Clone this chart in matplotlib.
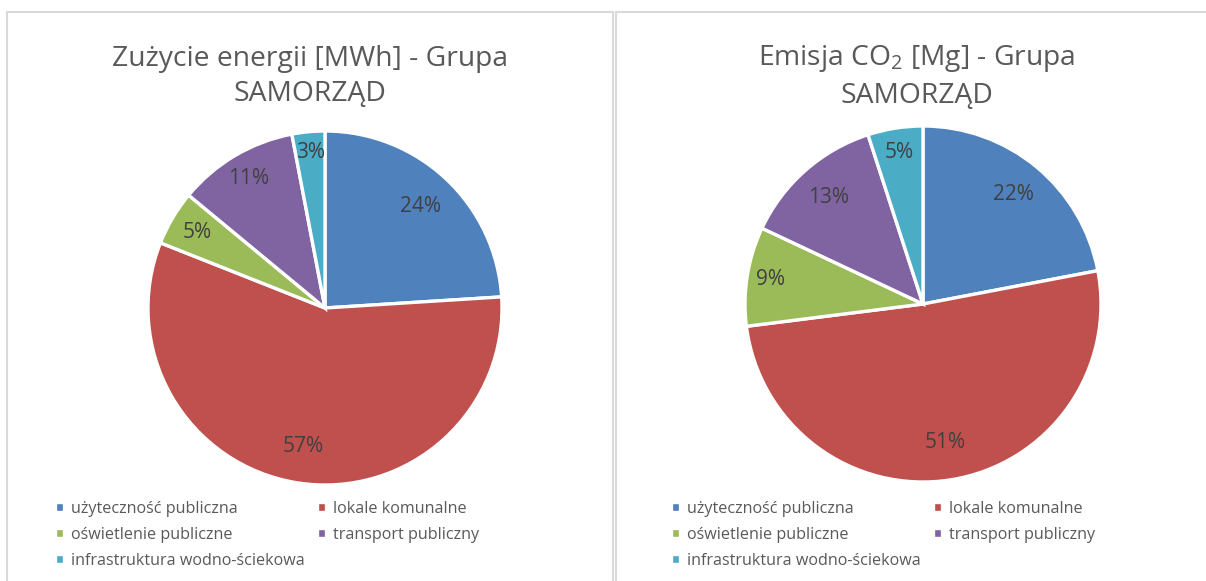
import matplotlib
matplotlib.use("Agg")
import matplotlib.pyplot as plt
from matplotlib.patches import Rectangle
import math

plt.rcParams['font.family'] = ['Open Sans', 'DejaVu Sans']
plt.rcParams['mathtext.fontset'] = 'custom'
plt.rcParams['mathtext.rm'] = 'Open Sans'

categories = ["użyteczność publiczna", "lokale komunalne", "oświetlenie publiczne",
              "transport publiczny", "infrastruktura wodno-ściekowa"]
energy_pct = [24, 57, 5, 11, 3]
co2_pct = [22, 51, 9, 13, 5]
title_energy = "Zużycie energii [MWh] - Grupa\nSAMORZĄD"
title_co2 = "Emisja CO$\\mathregular{_2}$ [Mg] - Grupa\nSAMORZĄD"

colors = ["#4F81BD", "#C0504D", "#9BBB59", "#8064A2", "#4BACC6"]
text_col = "#595959"

W, H = 1206, 581
fig = plt.figure(figsize=(W / 100, H / 100), dpi=100)
fig.patch.set_facecolor("white")

# panel borders
for x0, x1 in [(7, 613), (616, 1215)]:
    fig.patches.append(Rectangle((x0 / W, -0.05), (x1 - x0) / W, (H - 12.5) / H + 0.05,
                                 transform=fig.transFigure, fill=False,
                                 edgecolor="#D9D9D9", linewidth=1.5))


def draw(values, title, cx, cy, r, tx, dists, legend_x):
    ax = fig.add_axes([(cx - r) / W, (H - cy - r) / H, 2 * r / W, 2 * r / H])
    wedges, texts, autotexts = ax.pie(values, colors=colors, startangle=90, counterclock=False,
                                      autopct=lambda p: f"{p:.0f}%", pctdistance=0.8,
                                      wedgeprops=dict(edgecolor="white", linewidth=2.4),
                                      textprops=dict(color="#404040", fontsize=15))
    for t, d in zip(autotexts, dists):
        x, y = t.get_position()
        rr = math.hypot(x, y)
        t.set_position((x / rr * d, y / rr * d))
    ax.set_xlim(-1, 1)
    ax.set_ylim(-1, 1)
    ax.set_aspect("equal")
    fig.text(tx / W, (H - 76.5) / H, title, ha="center", va="center", fontsize=20.3,
             color=text_col, linespacing=1.38)
    order = [0, 2, 4, 1, 3]
    fig.legend([wedges[i] for i in order], [categories[i] for i in order], ncol=2,
               loc="upper left", bbox_to_anchor=(legend_x / W, (H - 501) / H),
               frameon=False, fontsize=11.6, labelcolor=text_col, handlelength=0.55,
               handleheight=0.55, handletextpad=0.45, columnspacing=0.75,
               labelspacing=0.62, borderaxespad=0, borderpad=0)


draw(energy_pct, title_energy, 325, 308, 177, 310, [0.79, 0.79, 0.84, 0.85, 0.88], 55)
draw(co2_pct, title_co2, 923, 304, 178, 917, [0.80, 0.79, 0.87, 0.80, 0.86], 671)

fig.savefig("out.png", dpi=100)
